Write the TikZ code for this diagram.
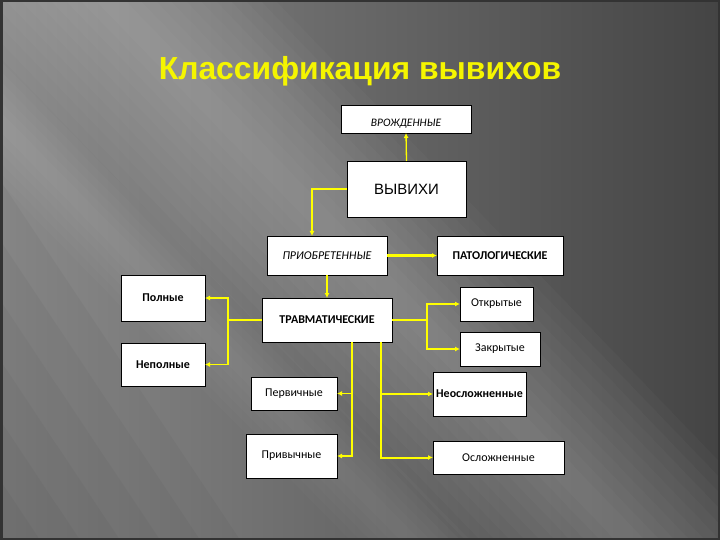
\documentclass[tikz,border=0pt]{standalone}
\usepackage{fontspec}
\setmainfont{Carlito}
\newfontfamily\arialf{Liberation Sans}
\usetikzlibrary{arrows.meta,calc}
\definecolor{ylw}{HTML}{F5F500}
\definecolor{conncol}{HTML}{FFFF00}
\definecolor{bgl}{HTML}{8A8A8A}
\definecolor{bgr}{HTML}{444444}
\tikzset{
  box/.style={draw=black, line width=0.8bp, fill=white, inner sep=0pt, outer sep=0pt, align=center, font=\fontsize{12}{14}\selectfont},
  conn/.style={draw=conncol, line width=1.3bp},
  arr/.style={conn, -{Latex[length=5bp,width=5bp]}},
}
\begin{document}
\begin{tikzpicture}[x=1bp,y=-1bp]
\useasboundingbox (0,0) rectangle (720,540);
% background
\shade[left color=bgl, right color=bgr] (0,0) rectangle (720,540);
\foreach \h in {15,30,...,165} {
  \fill[white, opacity=0.022] (110-\h,0) -- (110+\h,0) -- (110+\h+520,540) -- (110-\h+520,540) -- cycle;
}
\foreach \h in {10,20,...,60} {
  \fill[white, opacity=0.02] (-60-\h,60) -- (-60+\h,60) -- (-60+\h+470,540) -- (-60-\h+470,540) -- cycle;
}
\foreach \h in {20,40,...,120} {
  \fill[black, opacity=0.03] (0,540) -- (0,540-\h*3) -- (\h*2,540) -- cycle;
}
\draw[black!80, line width=2.5bp] (1.25,1.25) rectangle (718.75,538.75);
% title
\node[font=\arialf\bfseries\fontsize{32}{37}\selectfont, text=ylw, anchor=base] (title) at (360,80) {Классификация вывихов};
% boxes
\node[box, minimum width=130bp, minimum height=28bp, font=\itshape\fontsize{11.5}{13}\selectfont] (vrozh) at (406,119) {\raisebox{-7.5bp}[0pt][0pt]{ВРОЖДЕННЫЕ}};
\node[box, minimum width=119bp, minimum height=56bp, font=\arialf\fontsize{15}{17}\selectfont] (vyvihi) at (406.5,189) {ВЫВИХИ};
\node[box, minimum width=120bp, minimum height=39bp, font=\itshape\fontsize{12}{14}\selectfont] (priob) at (327,255.5) {ПРИОБРЕТЕННЫЕ};
\node[box, minimum width=126bp, minimum height=39bp, font=\bfseries\fontsize{12}{14}\selectfont] (patol) at (500,255.5) {ПАТОЛОГИЧЕСКИЕ};
\node[box, minimum width=84bp, minimum height=46bp, font=\bfseries\fontsize{12}{14}\selectfont] (poln) at (163,298) {Полные};
\node[box, minimum width=130bp, minimum height=44bp, font=\bfseries\fontsize{12}{14}\selectfont] (travm) at (327,320) {ТРАВМАТИЧЕСКИЕ};
\node[box, minimum width=73bp, minimum height=34bp] (otkr) at (496.5,304) {Открытые};
\node[box, minimum width=80bp, minimum height=34bp] (zakr) at (500,349) {Закрытые};
\node[box, minimum width=84bp, minimum height=43bp, font=\bfseries\fontsize{12}{14}\selectfont] (nepoln) at (163,364.5) {Неполные};
\node[box, minimum width=86bp, minimum height=33bp] (perv) at (294,393.5) {Первичные};
\node[box, minimum width=93bp, minimum height=44bp, font=\bfseries\fontsize{12}{14}\selectfont] (neosl) at (479.5,394) {Неосложненные};
\node[box, minimum width=91bp, minimum height=44bp] (privych) at (291.5,456) {Привычные};
\node[box, minimum width=131bp, minimum height=33bp] (osl) at (498.5,457.5) {Осложненные};
% connectors
\draw[arr] (vyvihi.north) -- (vrozh.south);
\draw[arr] (vyvihi.west) -| ([xshift=-15bp]priob.north);
\draw[arr, line width=2.2bp] (priob.east) -- (patol.west);
\draw[arr] (priob.south) -- (travm.north);
\coordinate (lj) at ($(travm.west)+(-34,0)$);
\draw[conn] (travm.west) -- (lj);
\draw[arr] (lj) |- (poln.east);
\draw[arr] (lj) |- (nepoln.east);
\coordinate (rj) at ($(travm.east)+(35,0)$);
\draw[conn] (travm.east) -- (rj);
\draw[arr] (rj) |- (otkr.west);
\draw[arr] (rj) |- (zakr.west);
\coordinate (bl) at ([xshift=25bp]travm.south);
\draw[arr] (bl) |- (perv.east);
\draw[arr] (bl) |- (privych.east);
\coordinate (br) at ([xshift=54bp]travm.south);
\draw[arr] (br) |- (neosl.west);
\draw[arr, line width=2bp] (br) |- (osl.west);
\end{tikzpicture}
\end{document}
